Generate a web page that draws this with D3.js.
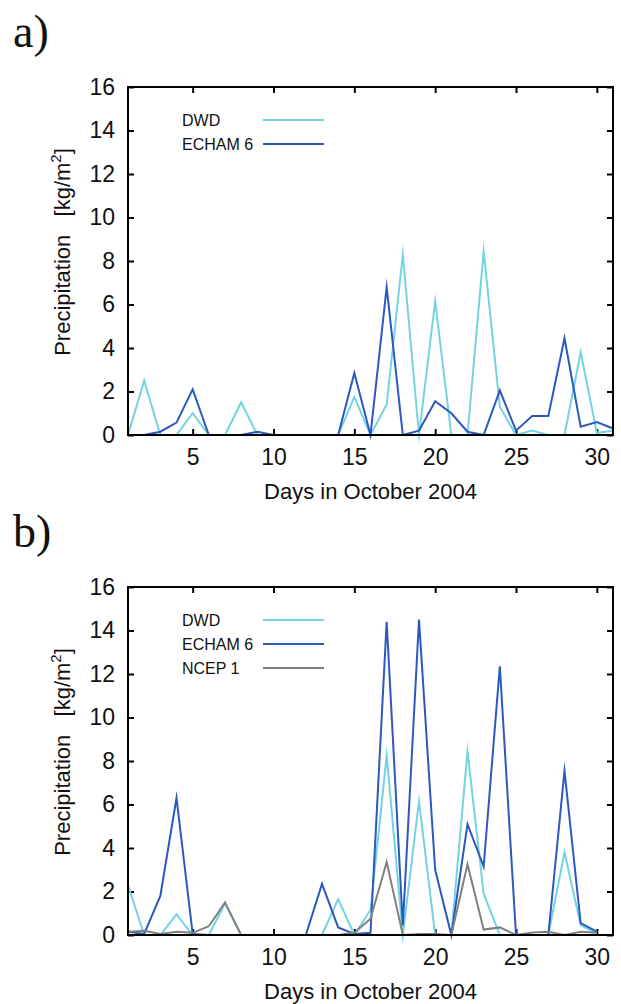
<!DOCTYPE html>
<html>
<head>
<meta charset="utf-8">
<script src="https://cdn.jsdelivr.net/npm/d3@7"></script>
<style>
  body { margin: 0; background: #fff; }
  svg { display: block; }
  text { font-family: "Liberation Sans", Arial, sans-serif; fill: #111; }
</style>
</head>
<body>
<script>
// days in October 2004
const daysA = [1,2,3,4,5,6,7,8,9,10,11,12,13,14,15,16,17,18,19,20,21,22,23,24,25,26,27,28,29,30,31]
const daysB = [1,2,3,4,5,6,7,8,9,10,11,12,13,14,15,16,17,18,19,20,21,22,23,24,25,26,27,28,29,30]

// panel a
const dwdA   = [0,2.5,0,0,1.0,0,0,1.5,0,0,0,0,0,0,1.75,0,1.4,8.3,0,6.15,0,0,8.45,1.3,0,0.2,0,0,3.8,0.1,0.2]
const echamA = [0,0,0.15,0.57,2.1,0,0,0,0.15,0,0,0,0,0,2.85,0,6.8,0,0.2,1.55,1.0,0.15,0,2.05,0.2,0.87,0.87,4.45,0.38,0.6,0.3]

// panel b
const dwdB   = [2.3,0,0,0.95,0,0,1.45,0,0,0,0,0,0,1.65,0,1.15,8.25,0,6.15,0,0,8.45,1.9,0,0,0,0,3.8,0.45,0.07]
const echamB = [0.15,0.05,1.8,6.3,0.05,0,0,0,0,0,0,0,2.35,0.35,0.05,0.1,14.4,0.45,14.5,3.0,0,5.1,3.15,12.35,0,0,0,7.55,0.55,0.15]
const ncepB  = [0.15,0.2,0.05,0.15,0.1,0.4,1.5,0,0,0,0,0,0,0,0.1,0.75,3.35,0,0.05,0.05,0,3.25,0.25,0.35,0,0.12,0.15,0,0.15,0.1]

const xTicks = [5,10,15,20,25,30]
const yTicks = [0,2,4,6,8,10,12,14,16]

const colors = { 'DWD': '#74d3e3', 'ECHAM 6': '#2c59be', 'NCEP 1': '#808080' }

const W = 621, H = 1004
const left = 128, right = 613, plotH = 348

const svg = d3.select('body').append('svg').attr('width', W).attr('height', H)

const x = d3.scaleLinear().domain([1, 31]).range([left, right])
const y = d3.scaleLinear().domain([0, 16]).range([plotH, 0])

function panel(top, label, days, series) {
    const g = svg.append('g').attr('transform', `translate(0, ${top})`)

    svg.append('text')
        .attr('x', 13).attr('y', top - 40)
        .style('font-family', '"Liberation Serif", "DejaVu Serif", serif')
        .style('font-size', '46px')
        .attr('fill', '#222')
        .text(label)

    // axes, ticks pointing inward on all four sides
    g.append('g').attr('transform', `translate(0, ${plotH})`)
        .call(d3.axisBottom(x).tickValues(xTicks).tickSize(-6).tickPadding(14))
    g.append('g')
        .call(d3.axisTop(x).tickValues(xTicks).tickSize(-6).tickFormat(''))
    g.append('g').attr('transform', `translate(${left}, 0)`)
        .call(d3.axisLeft(y).tickValues(yTicks).tickSize(-6).tickPadding(13))
    g.append('g').attr('transform', `translate(${right}, 0)`)
        .call(d3.axisRight(y).tickValues(yTicks).tickSize(-6).tickFormat(''))
    g.selectAll('.domain').remove()
    g.selectAll('.tick line').attr('stroke', '#000').attr('stroke-width', 2)
    g.selectAll('.tick text').style('font-size', '23px').attr('fill', '#111')

    const line = d3.line().x((d) => x(d[0])).y((d) => y(d[1]))
    series.forEach((s) => {
        g.append('path')
            .datum(days.map((d, i) => [d, s.values[i]]))
            .attr('d', line)
            .attr('fill', 'none')
            .attr('stroke', colors[s.name])
            .attr('stroke-width', 2)
            .attr('stroke-linejoin', 'miter')
            .attr('stroke-miterlimit', 12)
    })

    g.append('rect')
        .attr('x', left).attr('y', 0)
        .attr('width', right - left).attr('height', plotH)
        .attr('fill', 'none').attr('stroke', '#000').attr('stroke-width', 2)

    // legend
    series.forEach((s, i) => {
        const ly = 33 + i * 24
        g.append('text')
            .attr('x', 182).attr('y', ly + 6)
            .style('font-size', '16px')
            .text(s.name)
        g.append('line')
            .attr('x1', 263).attr('x2', 324)
            .attr('y1', ly).attr('y2', ly)
            .attr('stroke', colors[s.name]).attr('stroke-width', 2)
    })

    g.append('text')
        .attr('x', (left + right) / 2).attr('y', plotH + 64)
        .attr('text-anchor', 'middle')
        .style('font-size', '22px')
        .text('Days in October 2004')

    const yt = g.append('text')
        .attr('transform', `translate(70, ${plotH / 2 - 9}) rotate(-90)`)
        .attr('text-anchor', 'middle')
        .style('font-size', '22px')
    yt.append('tspan').text('Precipitation\u00a0\u00a0 [kg/m')
    yt.append('tspan').attr('dy', -9).style('font-size', '15px').text('2')
    yt.append('tspan').attr('dy', 9).text(']')
}

panel(87, 'a)', daysA, [
    { name: 'DWD', values: dwdA },
    { name: 'ECHAM 6', values: echamA }
])
panel(587, 'b)', daysB, [
    { name: 'DWD', values: dwdB },
    { name: 'ECHAM 6', values: echamB },
    { name: 'NCEP 1', values: ncepB }
])
</script>
</body>
</html>
